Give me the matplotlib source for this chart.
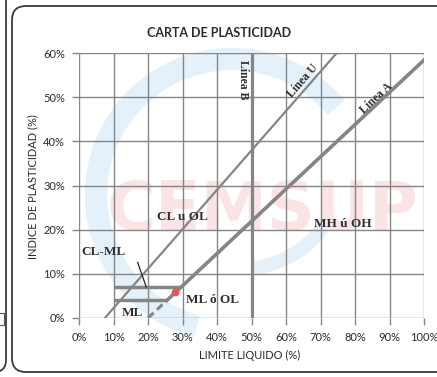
import matplotlib
matplotlib.use('Agg')
import matplotlib.pyplot as plt
from matplotlib.patches import FancyBboxPatch, Rectangle, Arc

# Soil classification lines (liquid limit %, plasticity index %)
linea_a_ll = [25.5, 100.0]
linea_a_ip = [4.0, 58.4]
linea_a_dash_ll = [20.0, 25.5]
linea_a_dash_ip = [0.0, 4.0]
linea_u_ll = [7.5, 74.7]
linea_u_ip = [0.0, 60.0]
linea_b_ll = [50.0, 50.0]
linea_b_ip = [0.0, 60.0]
clml_top_ll = [10.0, 29.6]
clml_top_ip = [7.0, 7.0]
clml_bot_ll = [10.0, 25.5]
clml_bot_ip = [4.0, 4.0]
muestra_ll = [28.0]
muestra_ip = [5.8]

x_ticks = [0, 10, 20, 30, 40, 50, 60, 70, 80, 90, 100]
y_ticks = [0, 10, 20, 30, 40, 50, 60]

W, H = 437, 377
fig = plt.figure(figsize=(W / 100, H / 100), dpi=100)
fig.patch.set_facecolor('white')

# rounded panel frames
fig.add_artist(FancyBboxPatch((12, 5), 450, 366, boxstyle="round,pad=0,rounding_size=14",
                              transform=None, facecolor='none', edgecolor='#3a3a3a', linewidth=1.3))
fig.add_artist(FancyBboxPatch((-120, 5), 126, 400, boxstyle="round,pad=0,rounding_size=12",
                              transform=None, facecolor='none', edgecolor='#3a3a3a', linewidth=1.3))
fig.add_artist(Rectangle((-3, 52), 7, 12, transform=None, facecolor='none',
                         edgecolor='#555555', linewidth=0.8))

# faint logo watermark
fig.add_artist(Arc((232, 182), 272, 272, theta1=40, theta2=255, transform=None,
                   color='#e4f1fa', linewidth=16, zorder=-2))
fig.add_artist(Arc((232, 182), 200, 150, theta1=285, theta2=345, transform=None,
                   color='#e4f1fa', linewidth=10, zorder=-2))
fig.text(0.60, 0.44, 'CEMSUP', fontsize=48, fontweight='bold', color='#fae4e5',
         ha='center', va='center', family='DejaVu Sans', zorder=-1)

ax = fig.add_axes([79 / W, 1 - 318 / H, 345 / W, 265 / H])
ax.set_facecolor('none')
ax.set_xlim(0, 100)
ax.set_ylim(0, 60)

grid_c = '#858585'
for x in x_ticks:
    ax.plot([x, x], [0, 60], color=grid_c, lw=1.0, zorder=1, solid_capstyle='butt')
for y in y_ticks:
    ax.plot([0, 100], [y, y], color=grid_c, lw=1.0, zorder=1, solid_capstyle='butt')
for s in ax.spines.values():
    s.set_visible(False)

ax.set_xticks(x_ticks)
ax.set_yticks(y_ticks)
ax.set_xticklabels([f'{v}%' for v in x_ticks])
ax.set_yticklabels([f'{v}%' for v in y_ticks])
ax.tick_params(direction='out', length=5, width=1.0, color=grid_c, labelsize=8,
               labelcolor='#2a2a2a', pad=5)
for lab in ax.get_xticklabels() + ax.get_yticklabels():
    lab.set_family('Lato')

line_c = '#858585'
ax.plot(linea_u_ll, linea_u_ip, color=line_c, lw=1.6, zorder=3)
ax.plot(linea_a_ll, linea_a_ip, color=line_c, lw=2.6, zorder=3)
ax.plot(linea_a_dash_ll, linea_a_dash_ip, color=line_c, lw=2.2, ls=(0, (2.5, 1.5)), zorder=3)
ax.plot(linea_b_ll, linea_b_ip, color=line_c, lw=2.3, zorder=3)
ax.plot(clml_top_ll, clml_top_ip, color=line_c, lw=2.5, zorder=3, solid_capstyle='butt')
ax.plot(clml_bot_ll, clml_bot_ip, color=line_c, lw=2.5, zorder=3, solid_capstyle='butt')
ax.scatter(muestra_ll, muestra_ip, s=32, color='#e2555c', zorder=5, edgecolors='none')

# leader line for CL-ML
ax.plot([17.0, 19.5], [12.6, 7.0], color='#222222', lw=0.9, zorder=4)

serif = dict(family='Liberation Serif', fontweight='bold', color='#2e2e2e', zorder=6)
ax.text(7.2, 15.0, 'CL-ML', fontsize=9.5, ha='center', va='center', **serif)
ax.text(15.4, 1.2, 'ML', fontsize=9.5, ha='center', va='center', **serif)
ax.text(38.8, 4.1, 'ML ó OL', fontsize=9.5, ha='center', va='center', **serif)
ax.text(29.9, 22.8, 'CL u OL', fontsize=9.5, ha='center', va='center', **serif)
ax.text(76.5, 21.3, 'MH ú OH', fontsize=9.5, ha='center', va='center', **serif)
ax.text(47.6, 54.0, 'Línea B', fontsize=8.5, ha='center', va='center', rotation=270, **serif)
ax.text(64.8, 53.6, 'Línea U', fontsize=8.5, ha='center', va='center', rotation=49, **serif)
ax.text(86.3, 49.8, 'Línea A', fontsize=8.5, ha='center', va='center', rotation=43, **serif)

fig.text(219 / W, 1 - 33 / H, 'CARTA DE PLASTICIDAD', fontsize=9, fontweight='bold',
         family='Lato', color='#2a2a2a', ha='center', va='center')
fig.text(250 / W, 1 - 355 / H, 'LIMITE LIQUIDO (%)', fontsize=8, family='Lato',
         color='#2a2a2a', ha='center', va='center')
fig.text(33 / W, 1 - 187 / H, 'INDICE DE PLASTICIDAD (%)', fontsize=8, family='Lato',
         color='#2a2a2a', ha='center', va='center', rotation=90)

fig.savefig('out.png', dpi=100)
